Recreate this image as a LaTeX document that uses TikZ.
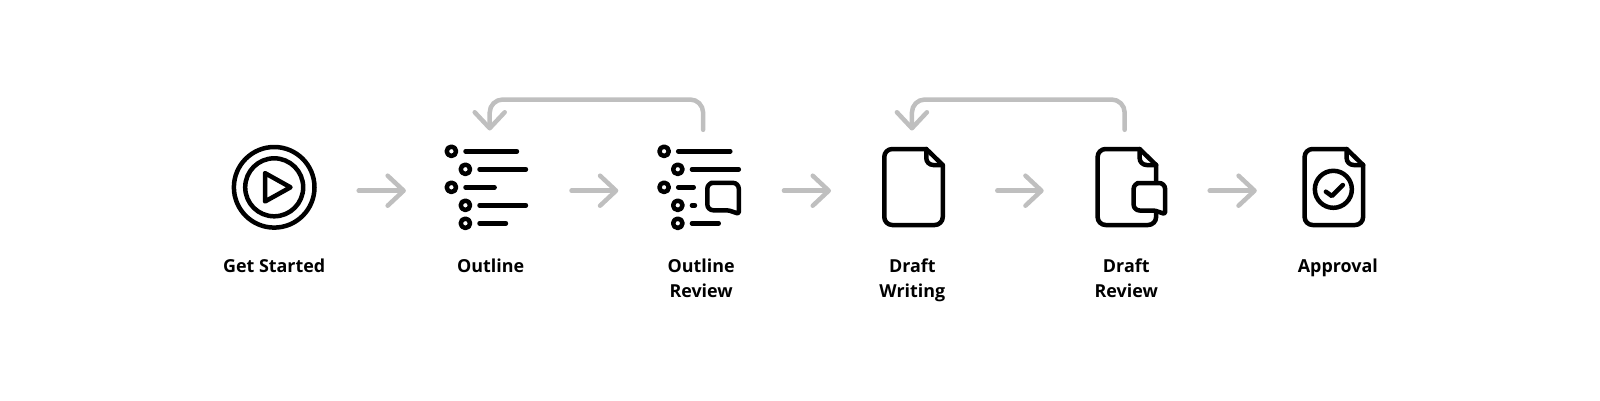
\documentclass[tikz,border=0pt]{standalone}
\usepackage{fontspec}
\setmainfont{Open Sans}
\usetikzlibrary{arrows.meta,positioning}

\definecolor{flowgray}{HTML}{BFBFBF}

\tikzset{
  pics/listicon/.style={code={
    \foreach \bx/\by/\bend in {#1} {
      \draw[iconline] (\bx,\by) circle (4.7pt);
      \draw[iconline] (\bx+14.1,\by) -- (\bend,\by);
    }
  }},
  pics/docicon/.style={code={
    \draw[iconline, fill=white] [rounded corners=8pt] (12.75,-41.7) -- (-29.25,-41.7) -- (-29.25,34.3) -- (29.25,34.3) -- (29.25,10) [sharp corners] -- (29.25,-25.7) -- (12.75,-41.7) -- cycle;
    \draw[iconline, rounded corners=7pt] (12.75,-41.7) -- (12.75,-25.7) -- (29.25,-25.7);
  }},
  pics/bubbleicon/.style={code={
    \draw[iconline, fill=white, rounded corners=6pt] (10,0) -- (31.5,0) -- (31.5,20) [rounded corners=1.5pt] -- (31.5,31) -- (21,27.5) [rounded corners=6pt] -- (0,27.5) -- (0,0) -- cycle;
  }}
}

\begin{document}
\begin{tikzpicture}[x=1pt, y=-1pt]

    \tikzset{iconline/.style={draw=black, line width=4.5pt, line cap=round, line join=round}}
    \tikzstyle{icon} = [rectangle, inner sep=0pt, minimum height=84pt]
    \tikzstyle{caption} = [inner sep=0pt, align=center, font=\fontsize{17.9}{25}\selectfont\bfseries]
    \tikzstyle{flow} = [draw=flowgray, line width=4.5pt, line cap=round, line join=round, -{Straight Barb[length=16pt, width=30pt, round]}]

    \useasboundingbox (0,0) rectangle (1600,400);

    \node (start)        [icon, minimum width=85pt]                        at (274.2,190.7) {};
    \node (outline)      [icon, minimum width=83pt,   right=127.6pt of start]        {};
    \node (outlinereview)[icon, minimum width=83.4pt, right=129.3pt of outline]      {};
    \node (draft)        [icon, minimum width=62pt,   right=141.3pt of outlinereview] {};
    \node (draftreview)  [icon, minimum width=71.3pt, right=150.7pt of draft]        {};
    \node (approval)     [icon, minimum width=62.3pt, right=135.4pt of draftreview]  {};

    \node (startcap)     [caption, below=25.8pt of start]                {Get Started};
    \node (outlinecap)   [caption, below=25.8pt of outline, xshift=4.5pt]  {Outline};
    \node (reviewcap)    [caption, below=25.8pt of outlinereview, xshift=2pt] {Outline\\Review};
    \node (draftcap)     [caption, below=25.8pt of draft, xshift=-1.2pt] {Draft\\Writing};
    \node (dreviewcap)   [caption, below=25.8pt of draftreview, xshift=-5pt] {Draft\\Review};
    \node (approvalcap)  [caption, below=25.8pt of approval, xshift=4pt] {Approval};

    % play button
    \draw[iconline] ([yshift=3.4pt]start.center) circle (40.3pt);
    \draw[iconline] ([yshift=3.4pt]start.center) circle (29pt);
    \draw[iconline] ([shift={(-9.2pt,17.6pt)}]start.center) -- ([shift={(16.3pt,3.4pt)}]start.center) -- ([shift={(-9.2pt,-10.8pt)}]start.center) -- cycle;

    % lists
    \pic at (outline.center) {listicon={-34.8/-39.4/30.7, -20.8/-21.4/39.7, -34.8/-3.4/8.4, -20.8/14.6/39.7, -20.8/32.6/19.7}};
    \pic at (outlinereview.center) {listicon={-35/-39.4/31.2, -21.3/-21.4/39.7, -35/-3.4/-5.4, -21.3/14.6/-4.2, -21.3/32.6/19.6}};
    \pic at ([shift={(8.2pt,7.9pt)}]outlinereview.center) {bubbleicon};

    % documents
    \pic at (draft.center) {docicon};
    \pic at ([xshift=-4.4pt]draftreview.center) {docicon};
    \pic at ([shift={(2.35pt,7.7pt)}]draftreview.center) {bubbleicon};
    \pic at (approval.center) {docicon};
    \draw[iconline] ([shift={(-0.5pt,1.4pt)}]approval.center) circle (18.5pt);
    \draw[iconline] ([shift={(-8pt,-1pt)}]approval.center) -- ([shift={(-2pt,-5.3pt)}]approval.center) -- ([shift={(9pt,5.7pt)}]approval.center);

    % flow
    \draw[flow, shorten <=41.8pt, shorten >=38.6pt] (start.east) -- (outline.west);
    \draw[flow, shorten <=43.6pt, shorten >=38.9pt] (outline.east) -- (outlinereview.west);
    \draw[flow, shorten <=42.9pt, shorten >=51.3pt] (outlinereview.east) -- (draft.west);
    \draw[flow, shorten <=52.6pt, shorten >=51.7pt] (draft.east) -- (draftreview.west);
    \draw[flow, shorten <=42.6pt, shorten >=45.7pt] (draftreview.east) -- (approval.west);

    % review loops
    \draw[flow, rounded corners=13pt, shorten <=18.7pt, shorten >=18pt] ([xshift=4pt]outlinereview.north) -- ++(0pt,49pt) -| ([xshift=3.5pt]outline.north);
    \draw[flow, rounded corners=13pt, shorten <=18.7pt, shorten >=18pt] ([xshift=-6.6pt]draftreview.north) -- ++(0pt,49pt) -| ([xshift=-1.6pt]draft.north);
\end{tikzpicture}
\end{document}
